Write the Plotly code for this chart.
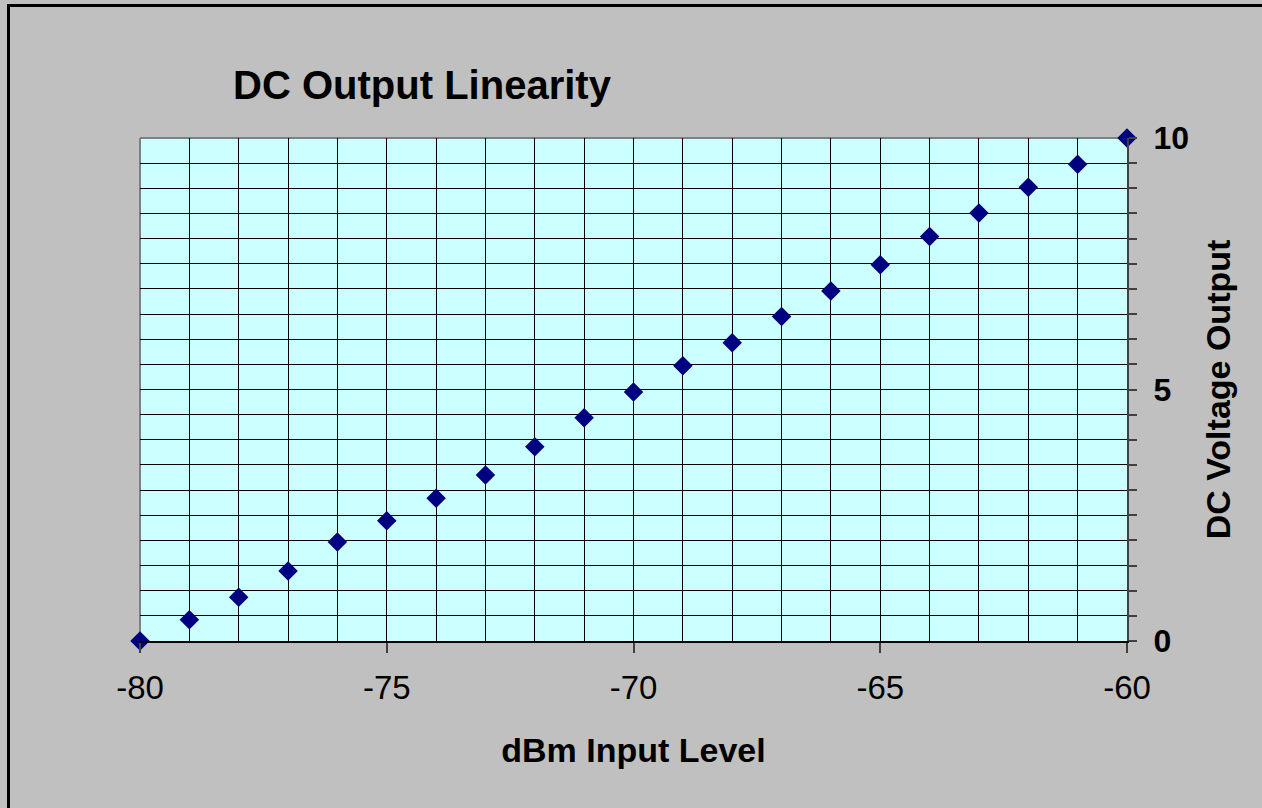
import plotly.graph_objects as go

input_dbm = [-80, -79, -78, -77, -76, -75, -74, -73, -72, -71, -70,
             -69, -68, -67, -66, -65, -64, -63, -62, -61, -60]
dc_volts = [0.0, 0.42, 0.87, 1.39, 1.97, 2.39, 2.84, 3.30, 3.86, 4.44, 4.95,
            5.47, 5.93, 6.45, 6.96, 7.48, 8.04, 8.51, 9.02, 9.48, 10.0]

x_ticks = [-80, -75, -70, -65, -60]
y_ticks = [0, 5, 10]

title_text = "DC Output Linearity"
x_title = "dBm Input Level"
y_title = "DC Voltage Output"

W, H = 1262, 808
L, R, T, B = 140, 135, 138, 167
pw, ph = W - L - R, H - T - B

def px_x(px):
    return (px - L) / pw

def px_y(py):
    return (H - B - py) / ph

FONT = "Liberation Sans, Arial, sans-serif"

fig = go.Figure()
fig.add_trace(go.Scatter(
    x=input_dbm, y=dc_volts, mode="markers",
    marker=dict(symbol="diamond", size=15, color="#000080",
                line=dict(width=0)),
    cliponaxis=False, showlegend=False,
))

fig.update_layout(
    width=W, height=H,
    margin=dict(l=L, r=R, t=T, b=B),
    paper_bgcolor="#C0C0C0",
    plot_bgcolor="#CCFFFF",
    font=dict(family=FONT, color="black"),
    showlegend=False,
    xaxis=dict(
        range=[-80, -60], tickvals=x_ticks, ticktext=[str(v) for v in x_ticks],
        ticks="outside", ticklen=10, tickwidth=2, tickcolor="#404040",
        ticklabelstandoff=6,
        showgrid=True, gridcolor="#000000", gridwidth=1.2,
        minor=dict(dtick=1, tick0=-80, showgrid=True, gridcolor="#000000",
                   gridwidth=1.2, ticks=""),
        showline=True, linecolor="#000000", linewidth=2,
        tickfont=dict(size=33, family=FONT, color="black"),
        zeroline=False, fixedrange=True,
        title=dict(text="<b>%s</b>" % x_title, font=dict(size=34, family=FONT),
                   standoff=34),
    ),
    yaxis=dict(
        side="right",
        range=[0, 10], tickvals=y_ticks, ticktext=["<b>%d</b>" % v for v in y_ticks],
        ticks="outside", ticklen=8, tickwidth=2, tickcolor="#404040",
        ticklabelstandoff=10,
        showgrid=True, gridcolor="#000000", gridwidth=1.2,
        minor=dict(dtick=0.5, tick0=0, showgrid=True, gridcolor="#000000",
                   gridwidth=1.2, ticks="outside", ticklen=8, tickwidth=2,
                   tickcolor="#404040"),
        showline=True, linecolor="#404040", linewidth=2,
        tickfont=dict(size=32, family=FONT, color="black"),
        zeroline=False, fixedrange=True,
        title=dict(text="<b>%s</b>" % y_title, font=dict(size=34, family=FONT),
                   standoff=18),
    ),
    title=dict(
        text="<b>%s</b>" % title_text,
        font=dict(size=40, family=FONT, color="black"),
        x=422 / W, xanchor="center", y=1 - 85 / H, yanchor="middle",
        xref="container", yref="container",
    ),
    shapes=[
        dict(type="line", xref="paper", yref="paper", x0=0, x1=1, y0=1, y1=1,
             line=dict(color="#808080", width=2), layer="below"),
        dict(type="line", xref="paper", yref="paper", x0=0, x1=0, y0=0, y1=1,
             line=dict(color="#808080", width=2), layer="below"),
        dict(type="rect", xref="paper", yref="paper",
             x0=px_x(8.5), x1=px_x(W + 10), y0=px_y(H + 10), y1=px_y(5.5),
             line=dict(color="black", width=3), fillcolor="rgba(0,0,0,0)",
             layer="above"),
    ],
)

fig.write_html("out.html",
               config={"displayModeBar": False},
               post_script="document.body.style.margin='0';document.body.style.overflow='hidden';")
